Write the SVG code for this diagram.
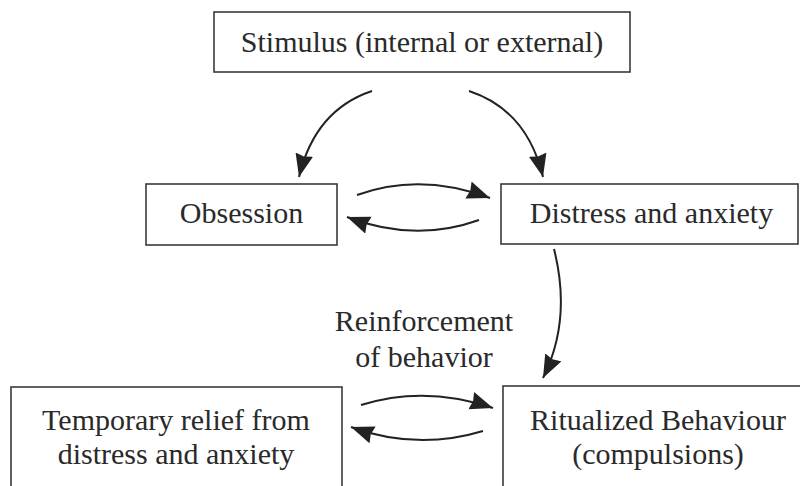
<svg xmlns="http://www.w3.org/2000/svg" width="800" height="486" viewBox="0 0 800 486">
  <defs>
    <style>
      .box { fill: #ffffff; stroke: #3a3a3a; stroke-width: 1.6; }
      .lbl { font-family: "Liberation Serif", "Times New Roman", serif; font-size: 30px; fill: #2a2a2a; text-anchor: middle; }
      .arr { fill: none; stroke: #222222; stroke-width: 2; marker-end: url(#head); }
    </style>
    <marker id="head" markerUnits="userSpaceOnUse" markerWidth="26" markerHeight="20" refX="23" refY="9" orient="auto">
      <path d="M0,0 L23,9 L0,18 L2,9 Z" fill="#222222"/>
    </marker>
  </defs>
  <rect width="800" height="486" fill="#ffffff"/>

  <g id="stimulus">
    <rect class="box" x="214" y="12" width="416" height="60"/>
    <text class="lbl" x="422" y="52">Stimulus (internal or external)</text>
  </g>
  <g id="obsession">
    <rect class="box" x="146" y="184" width="191" height="61"/>
    <text class="lbl" x="241.5" y="223">Obsession</text>
  </g>
  <g id="distress">
    <rect class="box" x="501" y="184" width="297" height="60"/>
    <text class="lbl" x="651.5" y="223">Distress and anxiety</text>
  </g>
  <g id="relief">
    <rect class="box" x="11" y="387" width="331" height="110"/>
    <text class="lbl" x="176" y="430">Temporary relief from</text>
    <text class="lbl" x="176" y="464">distress and anxiety</text>
  </g>
  <g id="ritualized">
    <rect class="box" x="503" y="386" width="310" height="110"/>
    <text class="lbl" x="658" y="430">Ritualized Behaviour</text>
    <text class="lbl" x="658" y="464">(compulsions)</text>
  </g>

  <g id="connectors">
    <path class="arr" d="M372,91 Q315,110 299,177"/>
    <path class="arr" d="M469,91 Q527,110 543,177"/>
    <path class="arr" d="M357,195 Q420,172 490,198"/>
    <path class="arr" d="M479,220 Q415,243 347,217"/>
    <path class="arr" d="M554,249 Q572,320 543,378"/>
    <path class="arr" d="M361,405 Q425,385 493,408"/>
    <path class="arr" d="M483,431 Q417,451 351,427"/>
    <text class="lbl" x="424" y="331">Reinforcement</text>
    <text class="lbl" x="424" y="367">of behavior</text>
  </g>
</svg>
